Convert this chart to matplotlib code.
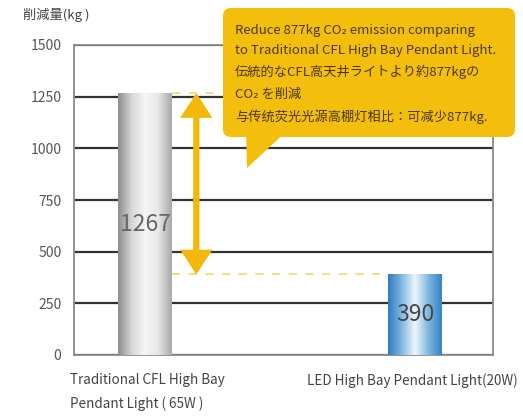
import numpy as np
import matplotlib.pyplot as plt
from matplotlib.patches import FancyBboxPatch, Polygon
from matplotlib.colors import LinearSegmentedColormap

# data
categories = ['Traditional CFL High Bay\nPendant Light ( 65W )', 'LED High Bay Pendant Light(20W)']
emissions = [1267, 390]
y_ticks = [0, 250, 500, 750, 1000, 1250, 1500]
y_unit = '削減量(kg )'
callout_lines = [
    'Reduce 877kg CO₂ emission comparing',
    'to Traditional CFL High Bay Pendant Light.',
    '伝統的なCFL高天井ライトより約877kgの',
    'CO₂ を削減',
    '与传统荧光光源高棚灯相比：可减少877kg.',
]

plt.rcParams['font.family'] = ['Noto Sans CJK JP', 'DejaVu Sans']

W, H = 523, 417
fig = plt.figure(figsize=(W / 100, H / 100), dpi=100)
fig.patch.set_facecolor('white')
ax = fig.add_axes([74 / W, 1 - 355 / H, 419 / W, 310 / H])

pos = np.arange(len(emissions))
bar_w = 0.2
bars = ax.bar(pos, emissions, width=bar_w, color='none', edgecolor='none', zorder=3)

# cylinder-like gradients clipped to the bars
silver = LinearSegmentedColormap.from_list('silver', ['#8c8c8c', '#d6d6d6', '#f6f6f6', '#e6e6e6', '#a8a8a8'])
blue = LinearSegmentedColormap.from_list('blue', ['#2f7cc0', '#7fb6e0', '#eef6fc', '#7fb6e0', '#3384c6'])
grad = np.linspace(0, 1, 256).reshape(1, -1)
for b, cm in zip(bars, [silver, blue]):
    im = ax.imshow(grad, cmap=cm, aspect='auto', zorder=3,
                   extent=(b.get_x(), b.get_x() + b.get_width(), 0, b.get_height()))
    im.set_clip_path(b)

for p, v, c in zip(pos, emissions, ['#666666', '#474747']):
    ax.text(p, v / 2, str(v), ha='center', va='center', fontsize=16.5, color=c, zorder=4)

# difference arrow and guide lines
arrow_x = pos[0] + 0.19
ax.plot([pos[0] + bar_w / 2, arrow_x + 0.07], [emissions[0]] * 2, ls=(0, (4, 4)),
        color='#f9dc8a', lw=1.5, zorder=2)
ax.plot([pos[0] + bar_w / 2, pos[1] - bar_w / 2], [emissions[1]] * 2, ls=(0, (4, 4)),
        color='#f9dc8a', lw=1.5, zorder=2)
ax.annotate('', xy=(arrow_x, emissions[1]), xytext=(arrow_x, emissions[0]),
            arrowprops=dict(arrowstyle='<|-|>,head_length=0.95,head_width=0.62', mutation_scale=12,
                            lw=4.5, color='#f3b80a', shrinkA=0, shrinkB=0, joinstyle='miter'),
            zorder=5)

ax.set_xlim(-0.263, 1.289)
ax.set_ylim(0, 1500)
ax.set_yticks(y_ticks)
ax.set_xticks([])
ax.tick_params(axis='y', length=0, labelsize=10, labelcolor='#555555', pad=9)
ax.grid(axis='y', color='#333333', lw=1.6, zorder=1)
ax.set_axisbelow(True)
for s in ax.spines.values():
    s.set_color('#8a8a8a')
    s.set_linewidth(1.3)

# overlay in pixel coordinates for callout and free labels
ov = fig.add_axes([0, 0, 1, 1], zorder=10)
ov.set_xlim(0, W)
ov.set_ylim(H, 0)
ov.axis('off')
ov.patch.set_alpha(0)

ov.add_patch(FancyBboxPatch((223, 8), 292, 129, boxstyle='round,pad=0,rounding_size=8',
                            fc='#f4be0c', ec='none'))
ov.add_patch(Polygon([(246, 130), (288, 130), (247, 168)], closed=True, fc='#f4be0c', ec='none'))
for line, yy in zip(callout_lines, [30, 50, 72, 94, 117]):
    ov.text(235, yy, line, ha='left', va='center', fontsize=9.5, color='#4a3800')

ov.text(23, 15, y_unit, ha='left', va='center', fontsize=9.5, color='#444444')
ov.text(70, 392, categories[0], ha='left', va='center', fontsize=9.7, color='#444444', linespacing=1.75)
ov.text(307, 381, categories[1], ha='left', va='center', fontsize=9.7, color='#444444')

fig.savefig('out.png', dpi=100)
